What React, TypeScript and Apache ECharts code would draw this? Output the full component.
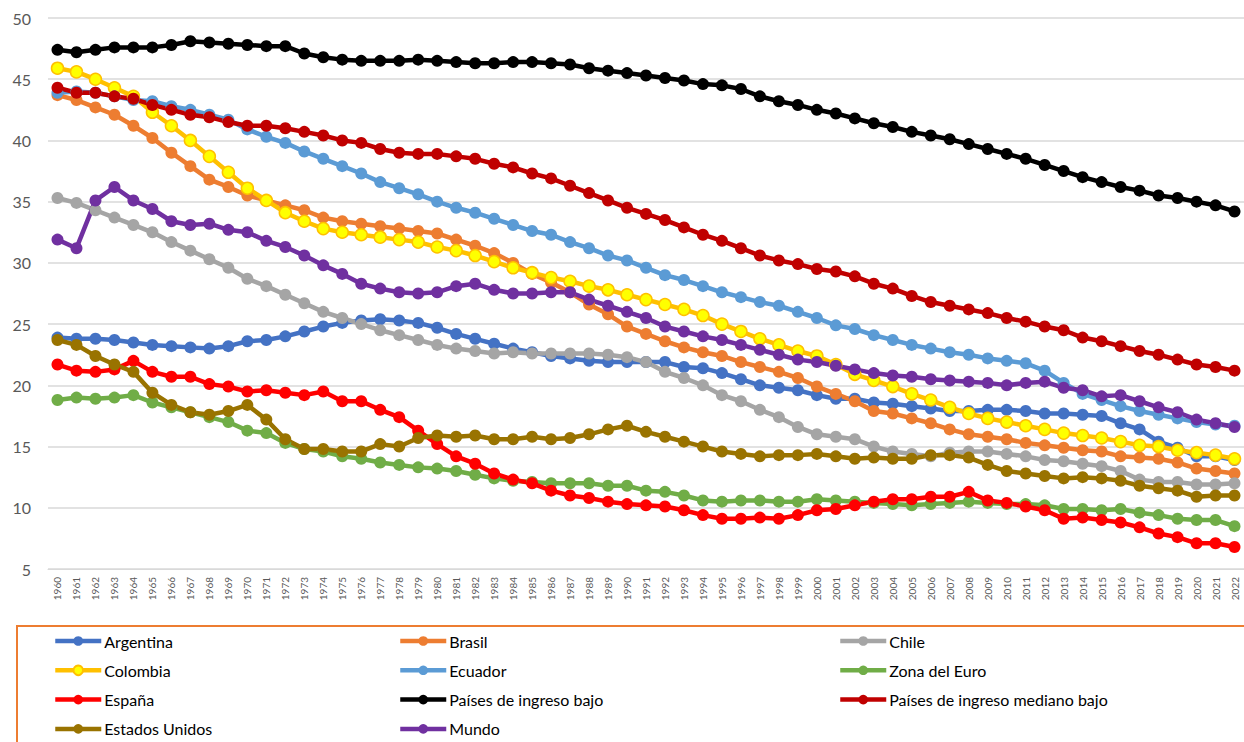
import React, { useEffect, useRef } from "react";
import * as echarts from "echarts";

const years: string[] = [];
for (let y = 1960; y <= 2022; y++) years.push(String(y));

const yTicks = { min: 5, max: 50, interval: 5 };

const argentina = [23.9, 23.8, 23.8, 23.7, 23.5, 23.3, 23.2, 23.1, 23.0, 23.2, 23.6, 23.7, 24.0, 24.4, 24.8, 25.1, 25.3, 25.4, 25.3, 25.1, 24.7, 24.2, 23.8, 23.4, 23.0, 22.7, 22.4, 22.2, 22.0, 21.9, 21.9, 21.9, 21.9, 21.5, 21.4, 21.0, 20.5, 20.0, 19.8, 19.6, 19.2, 18.9, 18.9, 18.6, 18.5, 18.3, 18.1, 17.9, 17.9, 18.0, 18.0, 17.9, 17.7, 17.7, 17.6, 17.5, 16.9, 16.4, 15.4, 14.9, 14.2, 14.2, 13.9];
const brasil = [43.7, 43.3, 42.7, 42.1, 41.2, 40.2, 39.0, 37.9, 36.8, 36.2, 35.5, 35.1, 34.7, 34.3, 33.7, 33.4, 33.2, 33.0, 32.8, 32.6, 32.4, 31.9, 31.4, 30.8, 30.0, 29.1, 28.4, 27.6, 26.6, 25.8, 24.8, 24.2, 23.6, 23.1, 22.7, 22.4, 21.9, 21.5, 21.1, 20.6, 19.9, 19.3, 18.7, 17.9, 17.7, 17.3, 16.9, 16.4, 16.0, 15.8, 15.6, 15.3, 15.1, 14.9, 14.7, 14.6, 14.2, 14.1, 14.0, 13.7, 13.2, 13.0, 12.8];
const chile = [35.3, 34.9, 34.3, 33.7, 33.1, 32.5, 31.7, 31.0, 30.3, 29.6, 28.7, 28.1, 27.4, 26.7, 26.0, 25.5, 25.0, 24.5, 24.1, 23.7, 23.3, 23.0, 22.8, 22.6, 22.7, 22.6, 22.6, 22.6, 22.6, 22.5, 22.3, 21.9, 21.1, 20.6, 20.0, 19.2, 18.7, 18.0, 17.4, 16.6, 16.0, 15.8, 15.6, 15.0, 14.6, 14.4, 14.2, 14.5, 14.6, 14.6, 14.4, 14.2, 13.9, 13.8, 13.6, 13.4, 13.0, 12.3, 12.1, 12.1, 11.9, 11.9, 12.0];
const colombia = [45.9, 45.6, 45.0, 44.3, 43.6, 42.3, 41.2, 40.0, 38.7, 37.4, 36.1, 35.1, 34.1, 33.4, 32.8, 32.5, 32.3, 32.1, 31.9, 31.7, 31.3, 31.0, 30.6, 30.1, 29.6, 29.2, 28.8, 28.5, 28.1, 27.8, 27.4, 27.0, 26.6, 26.2, 25.7, 25.0, 24.4, 23.8, 23.3, 22.8, 22.4, 21.7, 20.9, 20.4, 19.9, 19.3, 18.8, 18.2, 17.7, 17.3, 17.0, 16.7, 16.4, 16.1, 15.9, 15.7, 15.4, 15.1, 15.0, 14.7, 14.5, 14.3, 14.0];
const ecuador = [43.9, 44.0, 43.9, 43.6, 43.3, 43.2, 42.8, 42.5, 42.1, 41.7, 40.9, 40.3, 39.8, 39.1, 38.5, 37.9, 37.3, 36.6, 36.1, 35.6, 35.0, 34.5, 34.1, 33.6, 33.1, 32.6, 32.3, 31.7, 31.2, 30.6, 30.2, 29.6, 29.0, 28.6, 28.1, 27.6, 27.2, 26.8, 26.5, 26.0, 25.5, 24.9, 24.6, 24.1, 23.7, 23.3, 23.0, 22.7, 22.5, 22.2, 22.0, 21.8, 21.2, 20.2, 19.3, 18.8, 18.3, 17.9, 17.6, 17.3, 17.0, 16.8, 16.7];
const zonaEuro = [18.8, 19.0, 18.9, 19.0, 19.2, 18.6, 18.2, 17.8, 17.4, 17.0, 16.3, 16.1, 15.3, 14.8, 14.6, 14.2, 14.0, 13.7, 13.5, 13.3, 13.2, 13.0, 12.7, 12.4, 12.2, 12.1, 12.0, 12.0, 12.0, 11.8, 11.8, 11.4, 11.3, 11.0, 10.6, 10.5, 10.6, 10.6, 10.5, 10.5, 10.7, 10.6, 10.5, 10.4, 10.3, 10.2, 10.3, 10.4, 10.5, 10.4, 10.3, 10.3, 10.2, 9.9, 9.9, 9.8, 9.9, 9.6, 9.4, 9.1, 9.0, 9.0, 8.5];
const espana = [21.7, 21.2, 21.1, 21.3, 22.0, 21.1, 20.7, 20.7, 20.1, 19.9, 19.5, 19.6, 19.4, 19.2, 19.5, 18.7, 18.7, 18.0, 17.4, 16.3, 15.2, 14.2, 13.6, 12.8, 12.3, 12.0, 11.4, 11.0, 10.8, 10.5, 10.3, 10.2, 10.1, 9.8, 9.4, 9.1, 9.1, 9.2, 9.1, 9.4, 9.8, 9.9, 10.2, 10.5, 10.7, 10.7, 10.9, 10.9, 11.3, 10.6, 10.4, 10.1, 9.8, 9.1, 9.2, 9.0, 8.8, 8.4, 7.9, 7.6, 7.1, 7.1, 6.8];
const ingresoBajo = [47.4, 47.2, 47.4, 47.6, 47.6, 47.6, 47.8, 48.1, 48.0, 47.9, 47.8, 47.7, 47.7, 47.1, 46.8, 46.6, 46.5, 46.5, 46.5, 46.6, 46.5, 46.4, 46.3, 46.3, 46.4, 46.4, 46.3, 46.2, 45.9, 45.7, 45.5, 45.3, 45.1, 44.9, 44.6, 44.5, 44.2, 43.6, 43.2, 42.9, 42.5, 42.2, 41.8, 41.4, 41.1, 40.7, 40.4, 40.1, 39.7, 39.3, 38.9, 38.5, 38.0, 37.5, 37.0, 36.6, 36.2, 35.9, 35.5, 35.3, 35.0, 34.7, 34.2];
const medianoBajo = [44.3, 43.9, 43.9, 43.6, 43.4, 42.9, 42.5, 42.1, 41.9, 41.5, 41.2, 41.2, 41.0, 40.7, 40.4, 40.0, 39.8, 39.3, 39.0, 38.9, 38.9, 38.7, 38.5, 38.1, 37.8, 37.3, 36.9, 36.3, 35.7, 35.1, 34.5, 34.0, 33.5, 32.9, 32.3, 31.8, 31.2, 30.6, 30.2, 29.9, 29.5, 29.3, 28.9, 28.3, 27.9, 27.3, 26.8, 26.5, 26.2, 25.9, 25.5, 25.2, 24.8, 24.5, 23.9, 23.6, 23.2, 22.8, 22.5, 22.1, 21.7, 21.5, 21.2];
const estadosUnidos = [23.7, 23.3, 22.4, 21.7, 21.1, 19.4, 18.4, 17.8, 17.6, 17.9, 18.4, 17.2, 15.6, 14.8, 14.8, 14.6, 14.6, 15.2, 15.0, 15.7, 15.9, 15.8, 15.9, 15.6, 15.6, 15.8, 15.6, 15.7, 16.0, 16.4, 16.7, 16.2, 15.8, 15.4, 15.0, 14.6, 14.4, 14.2, 14.3, 14.3, 14.4, 14.2, 14.0, 14.1, 14.0, 14.0, 14.3, 14.3, 14.1, 13.5, 13.0, 12.8, 12.6, 12.4, 12.5, 12.4, 12.2, 11.8, 11.6, 11.4, 10.9, 11.0, 11.0];
const mundo = [31.9, 31.2, 35.1, 36.2, 35.1, 34.4, 33.4, 33.1, 33.2, 32.7, 32.5, 31.8, 31.3, 30.6, 29.8, 29.1, 28.3, 27.9, 27.6, 27.5, 27.6, 28.1, 28.3, 27.8, 27.5, 27.5, 27.6, 27.6, 27.0, 26.5, 26.0, 25.5, 24.8, 24.4, 24.0, 23.7, 23.3, 22.9, 22.5, 22.1, 21.9, 21.6, 21.3, 21.0, 20.8, 20.7, 20.5, 20.4, 20.3, 20.2, 20.0, 20.2, 20.3, 19.8, 19.6, 19.1, 19.2, 18.7, 18.2, 17.8, 17.2, 16.9, 16.6];

const seriesDefs = [
  { name: "Argentina", data: argentina, color: "#4472C4" },
  { name: "Brasil", data: brasil, color: "#ED7D31" },
  { name: "Chile", data: chile, color: "#A5A5A5" },
  { name: "Colombia", data: colombia, color: "#FFC000", fill: "#FFFF00" },
  { name: "Ecuador", data: ecuador, color: "#5B9BD5" },
  { name: "Zona del Euro", data: zonaEuro, color: "#70AD47" },
  { name: "España", data: espana, color: "#FF0000" },
  { name: "Países de ingreso bajo", data: ingresoBajo, color: "#000000" },
  { name: "Países de ingreso mediano bajo", data: medianoBajo, color: "#C00000" },
  { name: "Estados Unidos", data: estadosUnidos, color: "#997300" },
  { name: "Mundo", data: mundo, color: "#7030A0" },
];

const legendCols = [
  ["Argentina", "Colombia", "España", "Estados Unidos"],
  ["Brasil", "Ecuador", "Países de ingreso bajo", "Mundo"],
  ["Chile", "Zona del Euro", "Países de ingreso mediano bajo"],
];
const legendLefts = [53, 398, 838];

export default function App() {
  const ref = useRef<HTMLDivElement>(null);
  useEffect(() => {
    document.body.style.margin = "0";
    if (!ref.current) return;
    const chart = echarts.init(ref.current, null, { renderer: "svg" });
    const font = "Lato, 'Liberation Sans', sans-serif";
    chart.setOption({
      animation: false,
      backgroundColor: "#ffffff",
      grid: { left: 48, top: 18, width: 1202, height: 551, containLabel: false },
      xAxis: {
        type: "category",
        data: years,
        boundaryGap: true,
        axisTick: { show: false },
        axisLine: { show: true, lineStyle: { color: "#d9d9d9", width: 1 } },
        axisLabel: {
          rotate: 90,
          interval: 0,
          fontSize: 10,
          fontFamily: font,
          color: "#595959",
          margin: 8,
        },
      },
      yAxis: {
        type: "value",
        min: yTicks.min,
        max: yTicks.max,
        interval: yTicks.interval,
        axisLine: { show: false },
        axisTick: { show: false },
        splitLine: { lineStyle: { color: "#d9d9d9", width: 1.5 } },
        axisLabel: { fontSize: 16, fontFamily: font, color: "#595959", margin: 17 },
      },
      legend: legendCols.map((col, i) => ({
        data: col,
        orient: "vertical",
        left: legendLefts[i],
        top: 633,
        height: 140,
        padding: 0,
        itemWidth: 46,
        itemHeight: 12,
        itemGap: 13.3,
        lineStyle: { width: 4.5 },
        textStyle: { fontSize: 16, fontFamily: font, color: "#000000", lineHeight: 16, padding: [0, 0, 0, -2] },
      })),
      graphic: [
        {
          type: "rect",
          shape: { x: 17, y: 626, width: 1300, height: 200 },
          style: { fill: "none", stroke: "#ED7D31", lineWidth: 2 },
          silent: true,
        },
      ],
      series: seriesDefs.map((s) => ({
        name: s.name,
        type: "line",
        data: s.data,
        symbol: "circle",
        symbolSize: 12,
        showSymbol: true,
        lineStyle: { color: s.color, width: 4.5 },
        itemStyle: s.fill
          ? { color: s.fill, borderColor: s.color, borderWidth: 1.5 }
          : { color: s.color, borderWidth: 0 },
        emphasis: { disabled: true },
      })),
    });
    return () => chart.dispose();
  }, []);
  return <div ref={ref} style={{ width: 1244, height: 742 }} />;
}
